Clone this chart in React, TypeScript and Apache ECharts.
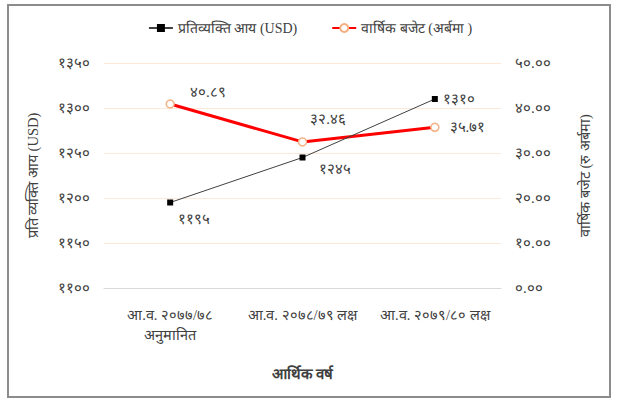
import React, { useEffect, useRef } from "react";
import * as echarts from "echarts";

const categories = ["आ.व. २०७७/७८\nअनुमानित", "आ.व. २०७८/७९ लक्ष", "आ.व. २०७९/८० लक्ष"];
const incomeName = "प्रतिव्यक्ति आय (USD)";
const budgetName = "वार्षिक बजेट (अर्बमा )";
const incomeValues = [1195, 1245, 1310];
const budgetValues = [40.89, 32.46, 35.71];
const incomeLabelOffsets = [[0, 16], [8, 11], [0, 0]];
const budgetLabelOffsets = [[10, -12], [-2, -23], [5, 0]];

const DEV = ["०", "१", "२", "३", "४", "५", "६", "७", "८", "९"];
const toDev = (s: string) => s.replace(/[0-9]/g, (d) => DEV[+d]);

const FONT = "'Liberation Serif', serif";
const TEXT = "#404040";

export default function App() {
  const ref = useRef<HTMLDivElement>(null);
  useEffect(() => {
    const chart = echarts.init(ref.current!, undefined, { renderer: "svg" });
    chart.setOption({
      animation: false,
      textStyle: { fontFamily: FONT, color: TEXT },
      legend: {
        top: 16,
        left: "center",
        itemWidth: 24,
        itemHeight: 10,
        itemGap: 34,
        textStyle: { fontSize: 14, color: TEXT, fontFamily: FONT },
        data: [incomeName, budgetName],
      },
      grid: { left: 104, right: 119, top: 63, bottom: 114 },
      xAxis: {
        type: "category",
        data: categories,
        boundaryGap: true,
        axisLine: { lineStyle: { color: "#d9d9d9", width: 1 } },
        axisTick: { show: false },
        axisLabel: {
          color: TEXT,
          fontSize: 14.5,
          margin: 17,
          lineHeight: 20,
          fontFamily: FONT,
          interval: 0,
          hideOverlap: false,
        },
        name: "आर्थिक वर्ष",
        nameLocation: "middle",
        nameGap: 78,
        nameTextStyle: { color: TEXT, fontSize: 15, fontWeight: "bold", fontFamily: FONT },
      },
      yAxis: [
        {
          type: "value",
          min: 1100,
          max: 1350,
          interval: 50,
          axisLine: { show: false },
          axisTick: { show: false },
          splitLine: { lineStyle: { color: "#fde9d9", width: 1 } },
          axisLabel: { color: TEXT, fontSize: 15, margin: 14, formatter: (v: number) => toDev(String(v)) },
          name: "प्रति व्यक्ति आय (USD)",
          nameLocation: "middle",
          nameGap: 64,
          nameTextStyle: { color: TEXT, fontSize: 14.5, fontFamily: FONT },
        },
        {
          type: "value",
          min: 0,
          max: 50,
          interval: 10,
          axisLine: { show: false },
          axisTick: { show: false },
          splitLine: { show: false },
          axisLabel: { color: TEXT, fontSize: 15, margin: 14, formatter: (v: number) => toDev(v.toFixed(2)) },
          name: "वार्षिक बजेट (रु अर्बमा)",
          nameLocation: "middle",
          nameGap: 76,
          nameRotate: 90,
          nameTextStyle: { color: TEXT, fontSize: 14.5, fontFamily: FONT },
        },
      ],
      series: [
        {
          name: incomeName,
          type: "line",
          yAxisIndex: 0,
          data: incomeValues.map((v, i) => ({
            value: v,
            label: { offset: incomeLabelOffsets[i] },
          })),
          symbol: "rect",
          symbolSize: 6,
          lineStyle: { color: "#404040", width: 1 },
          itemStyle: { color: "#000000" },
          label: {
            show: true,
            position: "right",
            color: TEXT,
            fontSize: 15,
            formatter: (p: any) => toDev(String(p.value)),
          },
          z: 3,
        },
        {
          name: budgetName,
          type: "line",
          yAxisIndex: 1,
          data: budgetValues.map((v, i) => ({
            value: v,
            label: { offset: budgetLabelOffsets[i] },
          })),
          symbol: "circle",
          symbolSize: 8,
          showSymbol: true,
          lineStyle: { color: "#ff0000", width: 3 },
          itemStyle: { color: "#ffffff", borderColor: "#f4b183", borderWidth: 1.5 },
          label: {
            show: true,
            position: "right",
            color: TEXT,
            fontSize: 15,
            formatter: (p: any) => toDev(Number(p.value).toFixed(2)),
          },
          z: 2,
        },
      ],
    });
    return () => chart.dispose();
  }, []);
  return (
    <div
      style={{
        position: "fixed",
        left: 0,
        top: 0,
        width: 620,
        height: 402,
        background: "#fff",
      }}
    >
      <div
        style={{
          position: "absolute",
          left: 7,
          top: 4,
          width: 604,
          height: 394,
          border: "2px solid #8c8c8c",
          boxSizing: "border-box",
          pointerEvents: "none",
          zIndex: 1,
        }}
      />
      <div ref={ref} style={{ position: "absolute", left: 0, top: 0, width: 620, height: 402 }} />
    </div>
  );
}
